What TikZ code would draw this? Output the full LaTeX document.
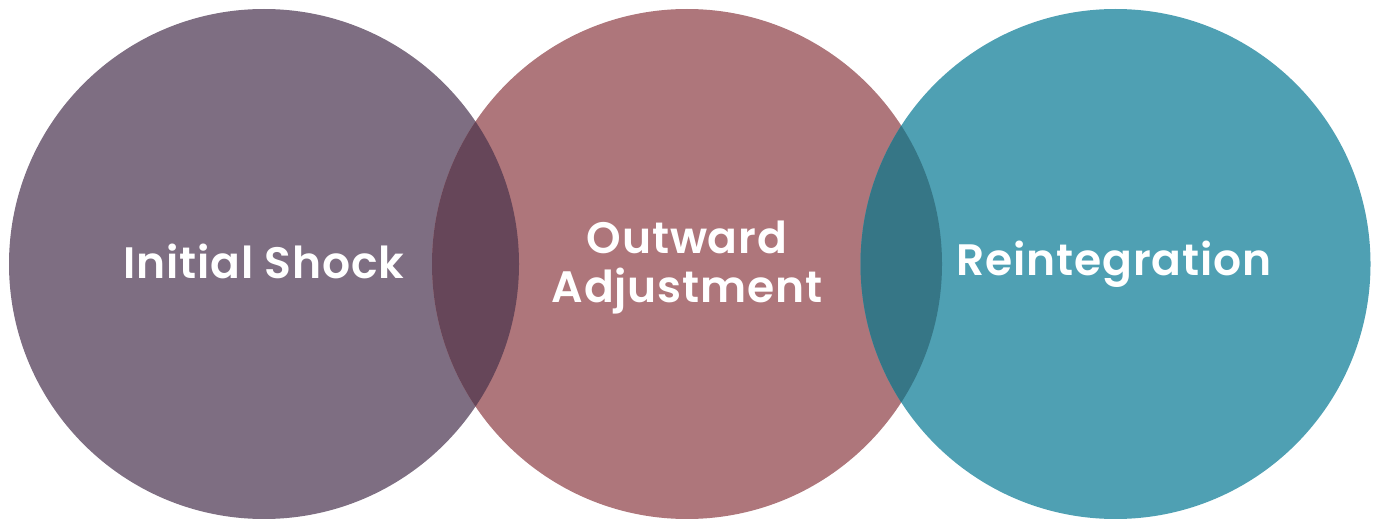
\documentclass[tikz,border=0pt]{standalone}
\usepackage{fontspec}
\setmainfont{Poppins}[BoldFont={Poppins SemiBold}]
\definecolor{cA}{HTML}{7E6E82}
\definecolor{cB}{HTML}{AE767B}
\definecolor{cC}{HTML}{4FA0B3}
\definecolor{lAB}{HTML}{664659}
\definecolor{lBC}{HTML}{367686}
\tikzset{label text/.style={text=white,font=\fontsize{44}{49}\selectfont\bfseries\addfontfeatures{LetterSpace=1.8},align=center,inner sep=0pt}}
\begin{document}
\begin{tikzpicture}[x=1pt,y=-1pt]
\useasboundingbox (0,0) rectangle (1376,519);
\coordinate (A) at (264,264);
\coordinate (B) at (687,264);
\coordinate (C) at (1115.5,264);
\fill[cA] (A) circle (255pt);
\fill[cB] (B) circle (255pt);
\fill[cC] (C) circle (255pt);
\begin{scope}
\clip (A) circle (255pt);
\fill[lAB] (B) circle (255pt);
\end{scope}
\begin{scope}
\clip (B) circle (255pt);
\fill[lBC] (C) circle (255pt);
\end{scope}
\node[label text] (tA) at (264,261) {Initial Shock};
\node[label text] (tB) at (687,268) {Outward\\Adjustment};
\node[label text] (tC) at (1114,264) {Reintegration};
\end{tikzpicture}
\end{document}
